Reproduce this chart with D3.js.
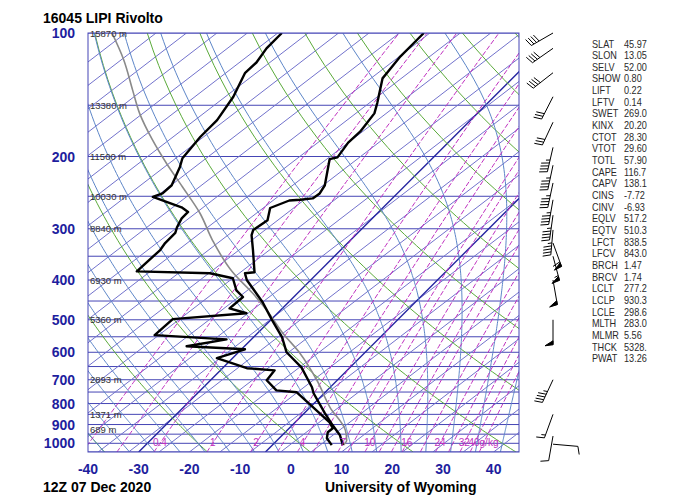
<!DOCTYPE html>
<html>
<head>
<meta charset="utf-8">
<script src="https://cdn.jsdelivr.net/npm/d3@7"></script>
<style>
  body { margin: 0; background: #fff; }
  svg { display: block; font-family: "Liberation Sans", Arial, sans-serif; }
</style>
</head>
<body>
<div id="chart"></div>
<script>
// sounding values (hPa, degC)
const tempP = [100, 104, 114, 125, 129, 148, 157, 174, 185, 201, 203, 235, 246, 253, 255, 256, 267, 286, 302, 311, 338, 383, 385, 400, 453, 501, 551, 600, 653, 730, 755, 845, 904, 956, 1010];
const tempT = [-56.4, -56.4, -56.4, -55.8, -55.6, -51.8, -50.3, -49.5, -49.7, -48.9, -50.1, -45.9, -45.3, -45.7, -47.9, -49.9, -52.2, -50.3, -51.2, -50.5, -47.3, -42.6, -44.3, -42.6, -35.1, -29.7, -24.4, -20.5, -14.6, -8.6, -7.1, -0.9, 3.0, 6.4, 8.9];
const dewP = [100, 109, 118, 125, 143, 163, 179, 202, 212, 235, 246, 251, 266, 273, 283, 297, 307, 325, 338, 381, 385, 396, 424, 440, 469, 482, 498, 545, 558, 580, 590, 620, 656, 664, 702, 743, 751, 889, 919, 940, 972, 1010];
const dewT = [-84.4, -84.4, -83.6, -83.8, -81.4, -80, -80, -79.3, -78.1, -76.1, -76.3, -77.5, -69.8, -67.6, -67.6, -66.8, -66, -66, -65.6, -66, -51.2, -45.7, -42.6, -40, -40.4, -36.1, -49.5, -49.9, -34.9, -41.4, -29.3, -33.1, -25.2, -19.3, -18.9, -15, -10.6, 1.8, 3.6, 3.4, 4.4, 6.7];
const parcelP = [100, 116, 138, 157, 182, 208, 237, 275, 320, 383, 431, 474, 539, 603, 702, 817, 930, 983, 1010];
const parcelT = [-117.9, -110.4, -102.5, -96.6, -88.9, -81.4, -73.7, -65, -57.2, -46.9, -38.8, -32.7, -25, -17.7, -9, -1.1, 6.5, 8.7, 9.0];

// wind (hPa, direction deg, speed kt)
const windP = [100, 109, 125, 143, 165, 190, 210, 232, 255, 278, 302, 325, 350, 400, 500, 700, 850, 960, 1005];
const windDir = [240, 235, 232, 207, 205, 193, 192, 192, 190, 188, 185, 160, 165, 170, 180, 205, 200, 190, 95];
const windSpd = [40, 40, 40, 30, 30, 45, 45, 45, 45, 45, 45, 60, 55, 50, 50, 45, 15, 10, 10];

const pressureTicks = [100, 200, 300, 400, 500, 600, 700, 800, 900, 1000];
const tempTicks = [-40, -30, -20, -10, 0, 10, 20, 30, 40];
const heightP = [100, 150, 200, 250, 300, 400, 500, 700, 850, 925];
const heightText = ["15870 m", "13380 m", "11500 m", "10030 m", "8840 m", "6930 m", "5360 m", "2893 m", "1371 m", "689 m"];
const mixLines = [0.1, 0.2, 0.4, 1, 2, 3, 4, 5, 7, 8, 10, 12, 14, 16, 20, 24, 28, 32, 36, 40];
const mixRatios = [0.4, 1, 2, 4, 7, 10, 16, 24, 32, 40];
const mixLabels = ["0.4", "1", "2", "4", "7", "10", "16", "24", "32", "40g/kg"];
const boldIsotherms = [-30, -5];

const indexNames = ["SLAT", "SLON", "SELV", "SHOW", "LIFT", "LFTV", "SWET", "KINX", "CTOT", "VTOT", "TOTL", "CAPE", "CAPV", "CINS", "CINV", "EQLV", "EQTV", "LFCT", "LFCV", "BRCH", "BRCV", "LCLT", "LCLP", "LCLE", "MLTH", "MLMR", "THCK", "PWAT"];
const indexValues = ["45.97", "13.05", "52.00", "0.80", "0.22", "0.14", "269.0", "20.20", "28.30", "29.60", "57.90", "116.7", "138.1", "-7.72", "-6.93", "517.2", "510.3", "838.5", "843.0", "1.47", "1.74", "277.2", "930.3", "298.6", "283.0", "5.56", "5328.", "13.26"];

const W = 700, H = 496;
const plot = { left: 88, right: 519, top: 33, bottom: 452 };

const svg = d3.select("#chart").append("svg")
  .attr("width", W).attr("height", H);

const y = d3.scaleLog().domain([100, 1050]).range([plot.top, plot.bottom]);
const x = d3.scaleLinear().domain([-40, 45]).range([plot.left, plot.right]);
// skewed position: isotherms at 45 degrees
const X = (T, p) => x(T) + (y(1050) - y(p));

svg.append("clipPath").attr("id", "clip")
  .append("rect")
    .attr("x", plot.left).attr("y", plot.top)
    .attr("width", plot.right - plot.left).attr("height", plot.bottom - plot.top);

const g = svg.append("g").attr("clip-path", "url(#clip)");
const line = d3.line().x(d => d[0]).y(d => d[1]);

// isobars
g.selectAll(".isobar").data(d3.range(100, 1051, 50))
  .enter().append("line")
    .attr("x1", plot.left).attr("x2", plot.right)
    .attr("y1", d => y(d)).attr("y2", d => y(d))
    .attr("stroke", "#4545b5").attr("stroke-width", 1);

// background diagonal grid (shallower than the isotherms)
const gridSkew = 1.3;
g.selectAll(".diag").data(d3.range(-140, 46, 6))
  .enter().append("line")
    .attr("x1", d => x(d)).attr("y1", y(1050))
    .attr("x2", d => x(d) + gridSkew * (y(1050) - y(100))).attr("y2", y(100))
    .attr("stroke", "#7272cc").attr("stroke-width", 1);

// highlighted isotherms
g.selectAll(".iso").data(boldIsotherms)
  .enter().append("line")
    .attr("x1", d => X(d, 1050)).attr("y1", y(1050))
    .attr("x2", d => X(d, 100)).attr("y2", y(100))
    .attr("stroke", "#2424a0").attr("stroke-width", 1.4);

// dry adiabats
const pLevels = d3.range(1050, 99, -10);
const dryData = d3.range(-40, 201, 20).map(th =>
  pLevels.map(p => [X((th + 273.15) * Math.pow(p / 1000, 0.2857) - 273.15, p), y(p)]));
g.selectAll(".dry").data(dryData)
  .enter().append("path")
    .attr("d", line).attr("fill", "none")
    .attr("stroke", "#5aaa3a").attr("stroke-width", 1);

// moist adiabats
function esat(Tc) { return 6.112 * Math.exp(17.67 * Tc / (Tc + 243.5)); }
function dTdp(p, Tk) {
  const es = esat(Tk - 273.15);
  const rs = 0.622 * es / (p - es);
  const num = (287.04 * Tk + 2.501e6 * rs) / p;
  const den = 1005.7 + (2.501e6 * 2.501e6 * rs * 0.622) / (287.04 * Tk * Tk);
  return num / den;
}
function moist(thw) {
  const pts = [];
  let T = thw + 273.15, p = 1000;
  let Td = T;
  for (let q = 1000; q < 1050; q += 5) { Td += dTdp(q, Td) * 5; }
  pts.push([1050, Td]);
  for (p = 1000; p >= 100; p -= 5) {
    pts.push([p, T]);
    const k1 = dTdp(p, T);
    const k2 = dTdp(p - 2.5, T - k1 * 2.5);
    T -= k2 * 5;
  }
  return pts.map(d => [X(d[1] - 273.15, d[0]), y(d[0])]);
}
g.selectAll(".moist").data(d3.range(-40, 41, 5).map(moist))
  .enter().append("path")
    .attr("d", line).attr("fill", "none")
    .attr("stroke", "#5d86c8").attr("stroke-width", 1);

// mixing ratio lines
function tdFromW(w, p) {
  const e = w * p / (622 + w);
  const l = Math.log(e / 6.112);
  return 243.5 * l / (17.67 - l);
}
g.selectAll(".mix").data(mixLines.map(w => d3.range(1050, 99, -10).map(p => [X(tdFromW(w, p), p), y(p)])))
  .enter().append("path")
    .attr("d", line).attr("fill", "none")
    .attr("stroke", "#c030c0").attr("stroke-width", 1)
    .attr("stroke-dasharray", "5,2");

// frame
svg.append("rect")
  .attr("x", plot.left).attr("y", plot.top)
  .attr("width", plot.right - plot.left).attr("height", plot.bottom - plot.top)
  .attr("fill", "none").attr("stroke", "#4545b5");

// mixing ratio labels
svg.selectAll(".mixlab").data(mixRatios)
  .enter().append("text")
    .attr("x", d => X(tdFromW(d, 1000), 1000))
    .attr("y", y(1000) + 3)
    .attr("text-anchor", "middle")
    .attr("font-size", 10).attr("fill", "#c030c0")
    .text((d, i) => mixLabels[i]);

// height labels
svg.selectAll(".hgt").data(heightP)
  .enter().append("text")
    .attr("x", plot.left + 2).attr("y", d => y(d) + 3.5)
    .attr("font-size", 9.5).attr("fill", "#333")
    .text((d, i) => heightText[i]);

// parcel, dewpoint, temperature
const toXY = (P, T) => P.map((p, i) => [X(T[i], p), y(p)]);
g.append("path").datum(toXY(parcelP, parcelT))
  .attr("d", d3.line().curve(d3.curveMonotoneY)).attr("fill", "none")
  .attr("stroke", "#8a8a8a").attr("stroke-width", 1.6);
g.append("path").datum(toXY(dewP, dewT))
  .attr("d", line).attr("fill", "none")
  .attr("stroke", "#000").attr("stroke-width", 2.4).attr("stroke-linejoin", "round");
g.append("path").datum(toXY(tempP, tempT))
  .attr("d", line).attr("fill", "none")
  .attr("stroke", "#000").attr("stroke-width", 2.4).attr("stroke-linejoin", "round");

// axes labels
svg.selectAll(".plab").data(pressureTicks)
  .enter().append("text")
    .attr("x", 75).attr("y", d => y(d) + 5)
    .attr("text-anchor", "end")
    .attr("font-size", 14).attr("font-weight", "bold").attr("fill", "#1e1e9e")
    .text(d => d);
svg.selectAll(".tlab").data(tempTicks)
  .enter().append("text")
    .attr("x", d => x(d)).attr("y", 474)
    .attr("text-anchor", "middle")
    .attr("font-size", 14).attr("font-weight", "bold").attr("fill", "#1e1e9e")
    .text(d => d);

svg.append("text").attr("x", 43).attr("y", 23)
  .attr("font-size", 14).attr("font-weight", "bold").text("16045 LIPI Rivolto");
svg.append("text").attr("x", 43).attr("y", 492)
  .attr("font-size", 14).attr("font-weight", "bold").text("12Z 07 Dec 2020");
svg.append("text").attr("x", 325).attr("y", 492)
  .attr("font-size", 14).attr("font-weight", "bold").text("University of Wyoming");

// stability indices (narrow face)
const idx = svg.append("g").attr("font-size", 10.5).attr("fill", "#2a2a2a");
idx.selectAll(".iname").data(indexNames)
  .enter().append("text")
    .attr("transform", (d, i) => `translate(592,${47.5 + i * 11.66}) scale(0.87,1)`)
    .text(d => d);
idx.selectAll(".ival").data(indexValues)
  .enter().append("text")
    .attr("transform", (d, i) => `translate(624,${47.5 + i * 11.66}) scale(0.87,1)`)
    .text(d => d);

// wind barbs
const bx = 553, staff = 25, flen = 8;
const barbs = svg.append("g").attr("stroke", "#000").attr("stroke-width", 1).attr("fill", "#000");
windP.forEach((p, i) => {
  const a = windDir[i] * Math.PI / 180;
  const ux = Math.sin(a), uy = -Math.cos(a);
  const nx = -uy, ny = ux;
  const y0 = y(p);
  const ex = bx + ux * staff, ey = y0 + uy * staff;
  barbs.append("line").attr("x1", bx).attr("y1", y0).attr("x2", ex).attr("y2", ey);
  let s = Math.round(windSpd[i] / 5) * 5;
  let pos = staff;
  while (s >= 50) {
    const px = bx + ux * pos, py = y0 + uy * pos;
    const qx = bx + ux * (pos - 4), qy = y0 + uy * (pos - 4);
    barbs.append("path")
      .attr("d", `M${px},${py}L${px + nx * flen + ux * 1},${py + ny * flen + uy * 1}L${qx},${qy}Z`);
    pos -= 5; s -= 50;
  }
  while (s >= 10) {
    const px = bx + ux * pos, py = y0 + uy * pos;
    barbs.append("line").attr("x1", px).attr("y1", py)
      .attr("x2", px + nx * flen + ux * 2).attr("y2", py + ny * flen + uy * 2);
    pos -= 3; s -= 10;
  }
  if (s >= 5) {
    const px = bx + ux * pos, py = y0 + uy * pos;
    barbs.append("line").attr("x1", px).attr("y1", py)
      .attr("x2", px + nx * flen / 2 + ux).attr("y2", py + ny * flen / 2 + uy);
  }
});
</script>
</body>
</html>
